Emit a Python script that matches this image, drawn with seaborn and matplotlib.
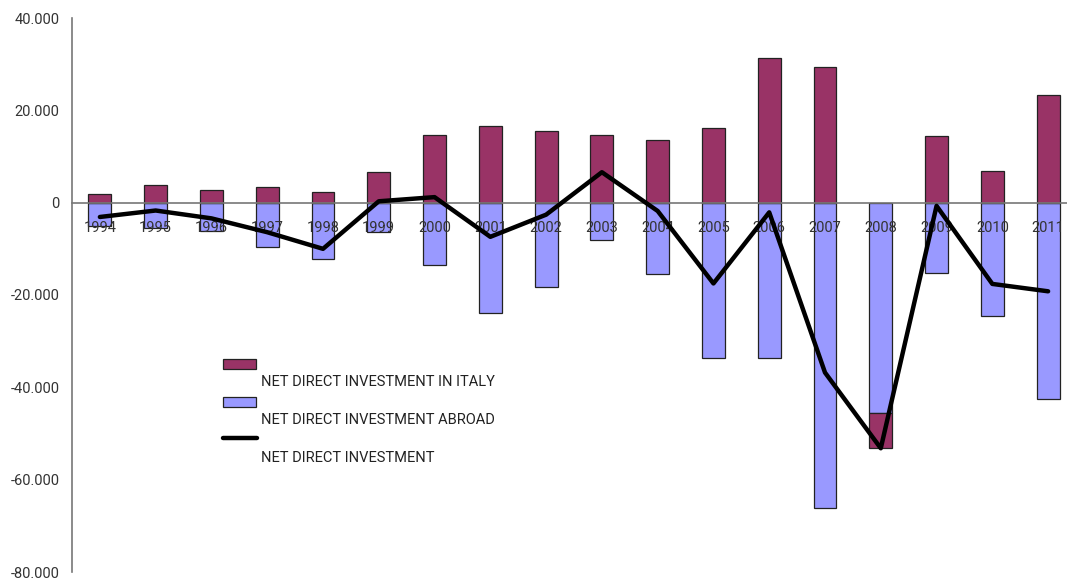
import matplotlib
matplotlib.use("Agg")
import matplotlib.pyplot as plt
from matplotlib.patches import Rectangle
from matplotlib.lines import Line2D
from matplotlib.ticker import FuncFormatter, FixedLocator
import seaborn as sns
import numpy as np
import pandas as pd

# values in EUR millions
years = [str(y) for y in range(1994, 2012)]
net_in_italy = [1900, 3800, 2800, 3300, 2400, 6600, 14600, 16600, 15500, 14600,
                13550, 16100, 31300, 29400, -7500, 14500, 6900, 23350]
net_abroad = [-5000, -5550, -6200, -9700, -12300, -6300, -13400, -24000, -18200, -8000,
              -15500, -33600, -33600, -66200, -45600, -15300, -24600, -42500]
net_total = [-3100, -1700, -3400, -6400, -10000, 300, 1200, -7400, -2600, 6600,
             -1800, -17500, -2100, -36800, -53200, -700, -17600, -19200]

labels = ["NET DIRECT INVESTMENT IN ITALY", "NET DIRECT INVESTMENT ABROAD", "NET DIRECT INVESTMENT"]
col_italy = "#993366"
col_abroad = "#9999FF"

sns.set_theme(style="white")
plt.rcParams["font.family"] = ["Roboto", "DejaVu Sans"]

W, H = 1067, 580
fig = plt.figure(figsize=(W / 100, H / 100), dpi=100)
# axes area in pixels: left 72, top 18, right 1076, bottom 572
ax = fig.add_axes([72 / W, (H - 572) / H, (1076 - 72) / W, (572 - 18) / H])

df = pd.DataFrame({"year": years, "italy": net_in_italy, "abroad": net_abroad, "net": net_total})
pos = np.arange(len(years))

bar_w = 0.41
sns.barplot(data=df, x="year", y="abroad", color=col_abroad, saturation=1, width=bar_w,
            edgecolor="#222222", linewidth=0.9, ax=ax, zorder=1)
# italy bars stack below the abroad bar when negative
bottoms = [a if v < 0 else 0 for v, a in zip(net_in_italy, net_abroad)]
ax.bar(pos, net_in_italy, bottom=bottoms, width=bar_w, color=col_italy,
       edgecolor="#222222", linewidth=0.9, zorder=1)
sns.lineplot(x=pos, y=df["net"], color="black", linewidth=3.2, ax=ax, zorder=3)

ax.set_axisbelow(False)  # year labels sit on top of the bars, under the line
ax.set_xlim(-0.5, len(years) - 0.5)
ax.set_ylim(-80000, 40000)
ax.set_xlabel("")
ax.set_ylabel("")

for s in ["top", "right"]:
    ax.spines[s].set_visible(False)
ax.spines["bottom"].set_position(("data", 0))
for s in ["left", "bottom"]:
    ax.spines[s].set_color("#777777")
    ax.spines[s].set_linewidth(1.2)

ax.yaxis.set_major_locator(FixedLocator([40000, 20000, 0, -20000, -40000, -60000, -80000]))
ax.yaxis.set_major_formatter(FuncFormatter(lambda v, p: f"{int(v):,}".replace(",", ".")))
ax.tick_params(axis="y", direction="out", length=5, width=1.2, color="#777777",
               labelsize=10.5, labelcolor="#333333", pad=4)

ax.set_xticks(pos)
ax.set_xticklabels(years)
ax.set_xticks(np.arange(-0.5, len(years), 1.0), minor=True)
ax.tick_params(axis="x", which="major", length=0, labelsize=10.5, labelcolor="#333333", pad=13)
ax.tick_params(axis="x", which="minor", direction="inout", length=6, width=1.2, color="#777777")
if ax.get_legend():
    ax.get_legend().remove()

# hand-built legend (patches on one line, text on the line below)
def fx(px):
    return px / W

def fy(py):
    return 1 - py / H

fig.patches.append(Rectangle((fx(223), fy(369)), fx(256) - fx(223), fy(359) - fy(369),
                             transform=fig.transFigure, facecolor=col_italy,
                             edgecolor="#222222", linewidth=0.9))
fig.patches.append(Rectangle((fx(223), fy(406.5)), fx(256) - fx(223), fy(396.5) - fy(406.5),
                             transform=fig.transFigure, facecolor=col_abroad,
                             edgecolor="#222222", linewidth=0.9))
fig.lines.append(Line2D([fx(223), fx(257)], [fy(438), fy(438)], transform=fig.transFigure,
                        color="black", linewidth=3.2))
for txt, py in zip(labels, [382, 420, 458]):
    fig.text(fx(261), fy(py), txt, ha="left", va="center", fontsize=10.5, color="#222222")

fig.savefig("out.png", dpi=100)
